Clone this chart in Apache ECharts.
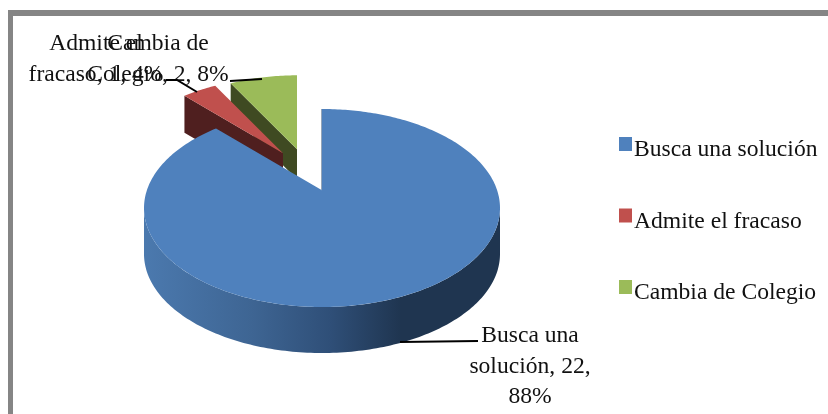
<!DOCTYPE html>
<html>
<head>
<meta charset="utf-8">
<style>html,body{margin:0;padding:0;background:#fff}#c{width:828px;height:414px;filter:blur(0.45px)}</style>
<script src="https://cdn.jsdelivr.net/npm/echarts@6/dist/echarts.min.js"></script>
</head>
<body>
<div id="c"></div>
<script>
const categories = ['Busca una solución', 'Admite el fracaso', 'Cambia de Colegio'];
const values = [22, 1, 2];
const labelLines = [['Busca una', 'solución, {v},', '{p}%'], ['Admite el', 'fracaso, {v}, {p}%'], ['Cambia de', 'Colegio, {v}, {p}%']];

const FONT = '"Liberation Serif", serif';
const topColors = ['#4f81bd', '#c0504d', '#9bbb59'];
const wallColors = ['#2a4a70', '#4f1f1f', '#3f4a22'];
const seriesZ = [6, 5, 4];
// pie geometry: ellipse centre, radii, perspective, height
const P = { cx: 323, cy: 208, rx: 178, ry: 99, a: 0.18, depth: 46 };
// per-slice explode: offset of the apex from the pie's apex, scale and wall height
const explode = [
  { dx: -1, dy: 0, s: 1, wall: 0 },
  { dx: -40, dy: -37, s: 0.93, wall: 37 },
  { dx: -26, dy: -41, s: 0.91, wall: 30 }
];
const labelAnchor = [
  { x: 530, y: 336, leader: [[400, 342], [478, 341]] },
  { x: 96, y: 44, leader: [[166, 80], [177, 80], [197, 92]] },
  { x: 158, y: 44, leader: [[230, 81], [262, 79]] }
];
const LINE_H = 30.5;

const total = values.reduce((a, b) => a + b, 0);
function project(deg) {
  const t = deg * Math.PI / 180, u = Math.sin(t), v = Math.cos(t), w = 1 + P.a * v;
  return [P.rx * Math.sqrt(1 - P.a * P.a) * u / w, -P.ry * (v + P.a) / w];
}
function apexOf(i) {
  const e = explode[i];
  return [P.cx + e.dx, P.cy - P.ry * P.a + e.dy];
}
function rimPoint(i, deg) {
  const e = explode[i], a = apexOf(i), q = project(deg);
  return [a[0] + q[0] * e.s, a[1] + (q[1] + P.ry * P.a) * e.s];
}
function arc(i, from, to) {
  const pts = [], n = Math.max(2, Math.ceil(Math.abs(to - from)));
  for (let k = 0; k <= n; k++) pts.push(rimPoint(i, from + (to - from) * k / n));
  return pts;
}
const down = (pts, d) => pts.map(p => [p[0], p[1] + d]);

function makeRender(i) {
  return function (params, api) {
    const start = api.value(0), end = api.value(1);
    const children = [];
    const apex = apexOf(i), e = explode[i];
    if (i === 0) {
      // outer front wall, from the right extreme to the left extreme of the ellipse
      const edge = Math.acos(-P.a) * 180 / Math.PI;
      const rim = arc(0, edge, 360 - edge);
      children.push({
        type: 'polygon',
        shape: { points: rim.concat(down(rim, P.depth).reverse()) },
        style: {
          fill: new echarts.graphic.LinearGradient(145, 0, 501, 0, [
            { offset: 0, color: '#4b79ae' },
            { offset: 0.3, color: '#3e6593' },
            { offset: 0.52, color: '#2f4f78' },
            { offset: 0.72, color: '#1f3550' },
            { offset: 1, color: '#1f3550' }
          ], true)
        }
      });
      const top = rimPoint(0, start);
      children.push({ type: 'polyline', shape: { points: [top, apex] }, style: { stroke: wallColors[0], lineWidth: 1, fill: null } });
    } else {
      const corner = rimPoint(i, start);
      children.push({
        type: 'polygon',
        shape: { points: [corner, apex, [apex[0], apex[1] + e.wall], [corner[0], corner[1] + e.wall]] },
        style: { fill: wallColors[i] }
      });
    }
    children.push({
      type: 'polygon',
      shape: { points: [apex].concat(arc(i, start, end)) },
      style: { fill: topColors[i] }
    });
    const a = labelAnchor[i];
    children.push({ type: 'polyline', shape: { points: a.leader }, style: { stroke: '#000', lineWidth: 2, fill: null } });
    const pct = Math.round(values[i] / total * 100);
    labelLines[i].forEach((line, k) => {
      children.push({
        type: 'text',
        style: {
          text: line.replace('{v}', values[i]).replace('{p}', pct),
          x: a.x, y: a.y + k * LINE_H,
          fill: '#111', font: '23.6px ' + FONT, align: 'center', verticalAlign: 'middle'
        }
      });
    });
    return { type: 'group', children };
  };
}

let acc = 0;
const series = categories.map((name, i) => {
  const start = acc / total * 360;
  acc += values[i];
  const end = acc / total * 360;
  return {
    type: 'custom', name, coordinateSystem: 'none', z: seriesZ[i], silent: true,
    itemStyle: { color: topColors[i] },
    data: [{ name, value: [start, end] }],
    renderItem: makeRender(i)
  };
});

const chart = echarts.init(document.getElementById('c'), null, { renderer: 'canvas' });
chart.setOption({
  animation: false,
  backgroundColor: '#fff',
  legend: {
    orient: 'vertical', left: 619, top: 137,
    // the swatch fills the upper part of the icon box, so it sits above the text's mid-line
    icon: 'path://M0 0H13V14H0Z M0 26h0',
    itemWidth: 13, itemHeight: 26, itemGap: 45.5, padding: 0, selectedMode: false,
    data: categories,
    textStyle: { fontFamily: FONT, fontSize: 23.6, color: '#111', padding: [0, 0, 0, -3], lineHeight: 26 }
  },
  graphic: [
    { type: 'rect', z: 1, shape: { x: 8, y: 10, width: 900, height: 6 }, style: { fill: '#858585' } },
    { type: 'rect', z: 1, shape: { x: 8, y: 10, width: 5, height: 420 }, style: { fill: '#858585' } }
  ],
  series
});
</script>
</body>
</html>
